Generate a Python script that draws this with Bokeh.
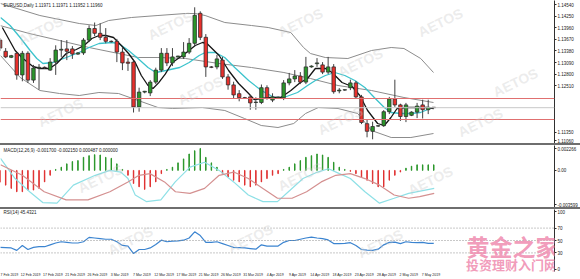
import numpy as np
from bokeh.plotting import figure
from bokeh.layouts import column
from bokeh.models import (Range1d, FixedTicker, Span, Label, Div, ColumnDataSource, LinearAxis)
from bokeh.embed import file_html
from bokeh.resources import INLINE

# ---------------- data ----------------
tick_bars = [0, 4, 8, 12, 16, 20, 24, 28, 32, 36, 40, 44, 48, 52, 56, 60, 64, 68, 72, 76]
tick_labels = ["7 Feb 2019", "12 Feb 2019", "17 Feb 2019", "21 Feb 2019", "26 Feb 2019", "3 Mar 2019",
               "7 Mar 2019", "12 Mar 2019", "17 Mar 2019", "21 Mar 2019", "26 Mar 2019", "31 Mar 2019",
               "4 Apr 2019", "9 Apr 2019", "14 Apr 2019", "18 Apr 2019", "23 Apr 2019", "28 Apr 2019",
               "2 May 2019", "7 May 2019"]

opens = [1.1365, 1.1337, 1.1322, 1.1332, 1.1278, 1.1332, 1.1265, 1.1295, 1.1297, 1.1290,
         1.1310, 1.1340, 1.1343, 1.1343, 1.1330, 1.1333, 1.1365, 1.1394, 1.1382, 1.1372,
         1.1362, 1.1362, 1.1335, 1.1310, 1.1310, 1.1198, 1.1235, 1.1233, 1.1260, 1.1290,
         1.1332, 1.1308, 1.1323, 1.1323, 1.1335, 1.1357, 1.1432, 1.1372, 1.1298, 1.1298,
         1.1315, 1.1273, 1.1253, 1.1231, 1.1221, 1.1223, 1.1209, 1.1209, 1.1246, 1.1215,
         1.1220, 1.1221, 1.1258, 1.1268, 1.1275, 1.1260, 1.1298, 1.1306, 1.1303, 1.1285,
         1.1298, 1.1238, 1.1240, 1.1246, 1.1258, 1.1223, 1.1156, 1.1137, 1.1150, 1.1151,
         1.1186, 1.1218, 1.1203, 1.1174, 1.1177, 1.1185, 1.1203, 1.1191, 1.11971]
highs = [1.1370, 1.1345, 1.1328, 1.1335, 1.1338, 1.1337, 1.1303, 1.1305, 1.1299, 1.1320,
         1.1352, 1.1365, 1.1365, 1.1350, 1.1335, 1.1370, 1.1402, 1.1409, 1.1407, 1.1395,
         1.1364, 1.1368, 1.1347, 1.1320, 1.1314, 1.1246, 1.1238, 1.1265, 1.1296, 1.1345,
         1.1345, 1.1345, 1.1326, 1.1360, 1.1370, 1.1447, 1.1437, 1.1380, 1.1300, 1.1328,
         1.1323, 1.1280, 1.1261, 1.1240, 1.1223, 1.1228, 1.1222, 1.1254, 1.1252, 1.1232,
         1.1224, 1.1265, 1.1283, 1.1290, 1.1285, 1.1323, 1.1302, 1.1320, 1.1310, 1.1323,
         1.1305, 1.1245, 1.1242, 1.1266, 1.1263, 1.1228, 1.1166, 1.1161, 1.1152, 1.1190,
         1.1223, 1.1266, 1.1206, 1.1208, 1.1187, 1.1208, 1.1216, 1.1216, 1.11971]
lows = [1.1338, 1.1320, 1.1320, 1.1266, 1.1262, 1.1258, 1.1258, 1.1241, 1.1293, 1.1288,
        1.1278, 1.1323, 1.1315, 1.1318, 1.1328, 1.1328, 1.1360, 1.1375, 1.1365, 1.1357,
        1.1359, 1.1310, 1.1290, 1.1288, 1.1184, 1.1186, 1.1232, 1.1225, 1.1255, 1.1285,
        1.1300, 1.1300, 1.1321, 1.1318, 1.1330, 1.1350, 1.1365, 1.1273, 1.1295, 1.1292,
        1.1268, 1.1241, 1.1220, 1.1212, 1.1218, 1.1191, 1.1191, 1.1205, 1.1216, 1.1210,
        1.1218, 1.1215, 1.1252, 1.1260, 1.1255, 1.1255, 1.1296, 1.1298, 1.1280, 1.1280,
        1.1231, 1.1232, 1.1238, 1.1240, 1.1220, 1.1155, 1.1122, 1.1117, 1.1148, 1.1148,
        1.1180, 1.1198, 1.1163, 1.1160, 1.1175, 1.1170, 1.1169, 1.1180, 1.11952]
closes = [1.1345, 1.1323, 1.1326, 1.1278, 1.1332, 1.1265, 1.1295, 1.1297, 1.1296, 1.1310,
          1.1340, 1.1342, 1.1337, 1.1330, 1.1333, 1.1365, 1.1394, 1.1382, 1.1372, 1.1362,
          1.1361, 1.1335, 1.1308, 1.1307, 1.1198, 1.1235, 1.1237, 1.1260, 1.1290, 1.1332,
          1.1308, 1.1323, 1.1325, 1.1335, 1.1357, 1.1427, 1.1372, 1.1298, 1.1297, 1.1318,
          1.1273, 1.1253, 1.1228, 1.1221, 1.1220, 1.1208, 1.1210, 1.1246, 1.1221, 1.1223,
          1.1222, 1.1258, 1.1268, 1.1275, 1.1260, 1.1298, 1.1300, 1.1308, 1.1285, 1.1298,
          1.1236, 1.1240, 1.1241, 1.1258, 1.1223, 1.1159, 1.1137, 1.1149, 1.1151, 1.1186,
          1.1218, 1.1203, 1.1174, 1.1203, 1.1185, 1.1200, 1.1191, 1.1197, 1.11960]

# moving averages / bands (bar position, price)
ma_fast_x = [0.4, 2.7, 3.9, 5.0, 5.9, 7.2, 8.9, 10.2, 11.9, 13.7, 15.1, 16.5, 17.8, 19.0, 20.4, 21.8, 23.1,
             24.3, 25.4, 26.6, 27.5, 28.5, 29.7, 31.0, 33.3, 35.1, 36.4, 37.2, 39.4, 41.1, 42.9, 44.7, 45.7,
             47.0, 48.7, 50.5, 52.3, 54.0, 55.3, 56.7, 58.5, 59.7, 61.5, 63.3, 64.7, 66.1, 67.9, 69.1, 70.3,
             71.4, 73.2, 75.0, 76.7, 78.0]
ma_fast_y = [1.13965, 1.1339, 1.13215, 1.1309, 1.1299, 1.1294, 1.1294, 1.13065, 1.13315, 1.13415, 1.13515,
             1.1369, 1.13765, 1.13765, 1.13715, 1.13515, 1.13315, 1.1309, 1.12765, 1.12515, 1.1244, 1.1258,
             1.1280, 1.1309, 1.13315, 1.13515, 1.1359, 1.13565, 1.13265, 1.1289, 1.12565, 1.12315, 1.12165,
             1.1219, 1.12215, 1.12215, 1.1239, 1.1259, 1.1269, 1.1294, 1.1294, 1.1284, 1.1259, 1.1249,
             1.12265, 1.1189, 1.11565, 1.11515, 1.11715, 1.1194, 1.11965, 1.11965, 1.11965, 1.1194]
ma_slow_x = [0.07, 1.8, 3.6, 5.4, 6.6, 7.7, 9.5, 11.9, 14.2, 16.0, 17.8, 20.1, 21.3, 23.1, 24.8, 26.6, 28.0,
             29.8, 32.3, 34.0, 35.8, 36.9, 38.7, 40.4, 42.2, 44.7, 47.0, 49.3, 51.0, 53.5, 55.3, 56.7, 58.5,
             60.2, 62.0, 63.8, 65.6, 67.3, 69.1, 70.3, 72.1, 73.9, 75.6, 77.4, 78.0]
ma_slow_y = [1.14215, 1.14015, 1.13715, 1.1339, 1.1319, 1.13065, 1.1309, 1.13215, 1.1334, 1.13465, 1.13565,
             1.1359, 1.13565, 1.1339, 1.1319, 1.12965, 1.1284, 1.1289, 1.12965, 1.1309, 1.13265, 1.1334,
             1.1334, 1.13215, 1.12965, 1.1264, 1.1239, 1.12215, 1.12215, 1.1234, 1.12515, 1.1264, 1.12765,
             1.1284, 1.12765, 1.1264, 1.12465, 1.12215, 1.11965, 1.1184, 1.11815, 1.11815, 1.1184, 1.1194,
             1.11965]
bb_up_x = [0.07, 7.15, 14.23, 17.24, 19.54, 23.61, 28.39, 33.34, 35.12, 36.88, 40.42, 45.20, 48.21, 52.28,
           54.58, 55.82, 58.48, 62.55, 66.80, 70.34, 72.64, 75.65, 77.95]
bb_up_y = [1.14565, 1.14265, 1.14065, 1.14015, 1.1414, 1.14215, 1.14265, 1.14315, 1.14315, 1.14265, 1.1409,
           1.14015, 1.13965, 1.1384, 1.13465, 1.13315, 1.13215, 1.1319, 1.1339, 1.13465, 1.1344, 1.1319, 1.1284]
bb_mid_x = [0.07, 5.38, 10.69, 16.0, 21.3, 24.85, 28.39, 33.34, 39.36, 45.2, 51.04, 55.82, 60.78, 66.8,
            72.64, 77.95]
bb_mid_y = [1.1401, 1.1381, 1.1364, 1.13465, 1.13315, 1.13215, 1.13215, 1.1319, 1.13065, 1.12965, 1.1284,
            1.1269, 1.12515, 1.1239, 1.12215, 1.1209]
bb_low_x = [0.07, 3.61, 7.15, 10.69, 14.23, 17.77, 21.3, 24.85, 28.39, 31.04, 36.35, 40.42, 43.96, 46.97,
            49.98, 52.81, 54.94, 57.24, 60.78, 64.32, 66.8, 70.34, 73.88, 77.95]
bb_low_y = [1.13265, 1.12715, 1.1239, 1.12315, 1.12265, 1.1234, 1.12315, 1.1214, 1.11965, 1.1194, 1.11965,
            1.1189, 1.1169, 1.11515, 1.11465, 1.11565, 1.11815, 1.11965, 1.1194, 1.11815, 1.1139, 1.11215,
            1.11215, 1.11315]

price_levels = [1.12190, 1.11665]
last_price = 1.11960
price_ticks = [1.14540, 1.14250, 1.13960, 1.13670, 1.13380, 1.13090, 1.12800, 1.12510, 1.11350]
price_tick_bottom = ("1.11060", 1.11130)   # text, drawn slightly inside the panel

macd_hist = [-0.0012, -0.0015, -0.00183, -0.00217, -0.00217, -0.0020, -0.0020, -0.00183, -0.00117, -0.0005,
             0.0001, 0.00033, 0.00067, 0.0009, 0.0010, 0.00133, 0.0015, 0.0016, 0.00157, 0.00133,
             0.00123, 0.00067, 0.0001, -0.0005, -0.00133, -0.00167, -0.00193, -0.00167, -0.00117, -0.00033,
             0.0001, 0.00033, 0.00077, 0.00117, 0.00167, 0.0020, 0.00223, 0.00133, 0.00077, 0.00033,
             -0.00033, -0.00067, -0.0010, -0.00117, -0.0015, -0.00167, -0.0015, -0.00117, -0.00083, -0.0005,
             -0.00033, 0.0001, 0.00033, 0.00067, 0.0010, 0.00133, 0.0015, 0.00167, 0.00157, 0.00133,
             0.00083, 0.00033, 0.0001, -0.0001, -0.00033, -0.00067, -0.0010, -0.00133, -0.00167, -0.00167,
             -0.0010, -0.0005, -0.00017, 0.00023, 0.00043, 0.00057, 0.00057, 0.00057, 0.00057]
macd_a_x = [0.07, 2.69, 5.31, 7.67, 10.23, 13.18, 17.11, 19.74, 21.70, 23.0, 24.3, 26.29, 28.91, 31.5,
            34.16, 36.78, 39.4, 42.0, 44.64, 47.27, 49.89, 51.85, 54.48, 57.1, 59.07, 61.03, 63.0, 65.62,
            68.24, 70.87, 73.49, 78.08]
macd_a_y = [0.00123, -0.00083, -0.00217, -0.00327, -0.00333, -0.0015, -0.0005, 0.0, -0.00017, -0.00083,
            -0.0025, -0.00317, -0.003, -0.00117, 0.00033, 0.00083, 0.0, -0.00117, -0.0025, -0.00317,
            -0.00317, -0.00217, -0.00083, -0.00017, 0.00017, -0.00033, -0.00083, -0.00217, -0.00333,
            -0.00283, -0.00233, -0.00183]
macd_b_x = [0.07, 4.0, 7.93, 11.87, 15.8, 19.74, 23.0, 24.98, 26.95, 29.57, 31.54, 34.16, 36.78, 39.4,
            42.02, 44.64, 47.27, 49.89, 52.51, 55.13, 57.76, 60.38, 63.0, 65.62, 68.24, 70.87, 73.49, 75.46,
            78.08]
macd_b_y = [0.00057, -0.0005, -0.00217, -0.003, -0.003, -0.00217, -0.00117, -0.0005, -0.00033, -0.00117,
            -0.00217, -0.00233, -0.00183, -0.0005, -0.00017, -0.00083, -0.00183, -0.00283, -0.00283,
            -0.00217, -0.00117, -0.0005, -0.00033, -0.00083, -0.0015, -0.0025, -0.00283, -0.00267, -0.00233]
macd_ticks = [(0.0022, "0.002266"), (0.0, "0.00"), (-0.0035, "-0.003599")]

rsi = [39, 38.5, 38, 34, 42, 35.5, 39, 40, 40, 43, 46, 48, 47, 46, 46, 48, 55, 54, 53, 52,
       52, 48, 42, 41, 29, 35.5, 35.5, 38, 43.5, 50.5, 48, 49, 49.5, 50.5, 54, 64, 58, 47, 47, 48,
       45, 42, 39, 38.5, 38, 37, 36, 43, 41, 41, 41, 47, 50, 50, 52, 54, 55.5, 54, 53, 51,
       45, 45, 45.5, 46.5, 42, 35.5, 34.5, 34, 36, 43, 47, 47.5, 45, 48, 47, 46.5, 47, 45.5, 45.4]
rsi_levels = [70, 50, 30]
rsi_ticks = [(96, "100"), (70, "70"), (50, "50"), (30, "30"), (4, "0")]

# ---------------- layout ----------------
W = 580
RB = 17
FW = W - RB
BAR_PX = 5.65
x0 = 0.07
xr = Range1d(x0, x0 + FW / BAR_PX)
AX_FONT = "Liberation Sans"
idx = np.arange(len(closes))


def make_fig(h, yr, bottom=0):
    p = figure(width=W, height=h, x_range=xr, y_range=yr, output_backend="svg", toolbar_location=None,
               y_axis_location="right", x_axis_location=None, min_border_left=0, min_border_right=RB,
               min_border_top=0, min_border_bottom=bottom)
    p.grid.visible = False
    p.outline_line_color = None
    ax = p.yaxis[0]
    ax.axis_line_color = "#303030"
    ax.major_tick_line_color = "#303030"
    ax.major_tick_out = 2
    ax.major_tick_in = 0
    ax.minor_tick_line_color = None
    ax.minor_tick_out = 0
    ax.minor_tick_in = 0
    ax.major_label_standoff = 1
    ax.major_label_text_font = AX_FONT
    ax.major_label_text_font_size = "4.5px"
    ax.major_label_text_color = "#202020"
    return p


def header(p, y_from_bottom, text):
    p.add_layout(Label(x=3, y=y_from_bottom, x_units="screen", y_units="screen", text=text,
                       text_font=AX_FONT, text_font_size="4.5px", text_color="#202020",
                       text_baseline="middle"))


# main panel
H1 = 143
p1 = make_fig(H1, Range1d(1.11065, 1.1464))
ticks1 = price_ticks + [price_tick_bottom[1]]
overrides1 = {t: "%.5f" % t for t in price_ticks}
overrides1[price_tick_bottom[1]] = price_tick_bottom[0]
p1.yaxis[0].ticker = FixedTicker(ticks=ticks1)
p1.yaxis[0].major_label_overrides = overrides1

p1.add_layout(Span(location=last_price, dimension="width", line_color="#c8c8c8", line_width=1))
for lv in price_levels:
    p1.add_layout(Span(location=lv, dimension="width", line_color="#e07070", line_width=1))

p1.line(bb_up_x, bb_up_y, line_color="#8c8c8c", line_width=1)
p1.line(bb_mid_x, bb_mid_y, line_color="#8c8c8c", line_width=1)
p1.line(bb_low_x, bb_low_y, line_color="#8c8c8c", line_width=1)
p1.line(ma_slow_x, ma_slow_y, line_color="#3cc3cc", line_width=1.3)
p1.line(ma_fast_x, ma_fast_y, line_color="#151515", line_width=1.3)

o = np.array(opens); c = np.array(closes)
src = ColumnDataSource(dict(x=idx, o=o, c=c, h=np.array(highs), l=np.array(lows),
                            top=np.maximum(o, c), bot=np.minimum(o, c),
                            col=np.where(c >= o, "#2a962a", "#e8302c")))
p1.segment(x0="x", y0="l", x1="x", y1="h", source=src, line_color="#404040", line_width=1)
p1.vbar(x="x", width=0.62, top="top", bottom="bot", source=src, fill_color="col", line_color="#303030",
        line_width=0.8)

header(p1, H1 - 5, "EURUSD,Daily  1.11971 1.11971 1.11952 1.11960")

for lv, bg in [(price_levels[0], "#e03030"), (last_price, "#101010"), (price_levels[1], "#e03030")]:
    p1.add_layout(Label(x=FW + 1, y=lv, x_units="screen", y_units="data", text="%.5f" % lv,
                        text_font=AX_FONT, text_font_size="4.5px", text_color="white",
                        text_baseline="middle", background_fill_color=bg))

# MACD panel
H2 = 62
p2 = make_fig(H2, Range1d(-0.00377, 0.00253))
p2.yaxis[0].ticker = FixedTicker(ticks=[t for t, _ in macd_ticks])
p2.yaxis[0].major_label_overrides = {t: s for t, s in macd_ticks}
mh = np.array(macd_hist)
msrc = ColumnDataSource(dict(x=idx, top=np.maximum(mh, 0), bot=np.minimum(mh, 0),
                             col=np.where(mh >= 0, "#2a962a", "#e03030")))
p2.vbar(x="x", width=0.08, top="top", bottom="bot", source=msrc, fill_color="col", line_color="col",
        line_width=1)
p2.line(macd_a_x, macd_a_y, line_color="#8ee0e6", line_width=1.2)
p2.line(macd_b_x, macd_b_y, line_color="#d49090", line_width=1.2)
header(p2, H2 - 5, "MACD(12,26,9) -0.001700 -0.002150 0.000487 0.000000")

# RSI panel
H3 = 64
p3 = make_fig(H3 + 6, Range1d(0, 100), bottom=6)
xa = LinearAxis(ticker=FixedTicker(ticks=[b + 1.5 for b in tick_bars]),
                major_label_overrides={b + 1.5: t for b, t in zip(tick_bars, tick_labels)})
xa.axis_line_color = None
xa.major_tick_line_color = None
xa.minor_tick_line_color = None
xa.major_tick_out = 0
xa.major_tick_in = 0
xa.minor_tick_out = 0
xa.minor_tick_in = 0
xa.major_label_standoff = 1
xa.major_label_text_font = AX_FONT
xa.major_label_text_font_size = "3.5px"
xa.major_label_text_color = "#202020"
p3.add_layout(xa, "below")
p3.yaxis[0].ticker = FixedTicker(ticks=[t for t, _ in rsi_ticks])
p3.yaxis[0].major_label_overrides = {t: s for t, s in rsi_ticks}
for lv in rsi_levels:
    p3.add_layout(Span(location=lv, dimension="width", line_color="#909090", line_width=1, line_dash="1 2"))
p3.line(idx, rsi, line_color="#3b84d0", line_width=1.2)
header(p3, H3 - 5, "RSI(14) 45.4321")

# watermarks (page pixel positions)
wm = [(40, 30), (170, 25), (300, 22), (440, 22), (360, 62), (200, 90), (60, 112), (340, 120),
      (515, 82), (480, 122), (100, 178), (300, 176), (430, 180), (130, 242), (250, 240), (380, 245)]
for (px, py) in wm:
    if py < 144:
        p, sy = p1, H1 - py
    elif py < 208:
        p, sy = p2, 207 - py
    else:
        p, sy = p3, 273 - py
    p.add_layout(Label(x=px, y=sy, x_units="screen", y_units="screen", text="AETOS", angle=0.45,
                       text_align="center", text_baseline="middle", text_font="Liberation Sans",
                       text_font_style="bold", text_font_size="14px", text_color="#c8c8c8",
                       text_alpha=0.35))

p3.add_layout(Label(x=512, y=273 - 247, x_units="screen", y_units="screen", text="黄金之家",
                    text_align="center", text_baseline="middle", text_font="Noto Sans CJK SC",
                    text_font_style="bold", text_font_size="23px", text_color="#f08fb2", text_alpha=0.9))
p3.add_layout(Label(x=511, y=273 - 266, x_units="screen", y_units="screen", text="投资理财入门网",
                    text_align="center", text_baseline="middle", text_font="Noto Sans CJK SC",
                    text_font_style="bold", text_font_size="13px", text_color="#f08fb2", text_alpha=0.9))

sep1 = Div(text="", width=W, height=2, margin=0, styles={"background-color": "#6e6e6e"})
sep2 = Div(text="", width=W, height=2, margin=0, styles={"background-color": "#6e6e6e"})

layout = column(p1, sep1, p2, sep2, p3, spacing=0)
open("out.html", "w").write(file_html(layout, INLINE))
